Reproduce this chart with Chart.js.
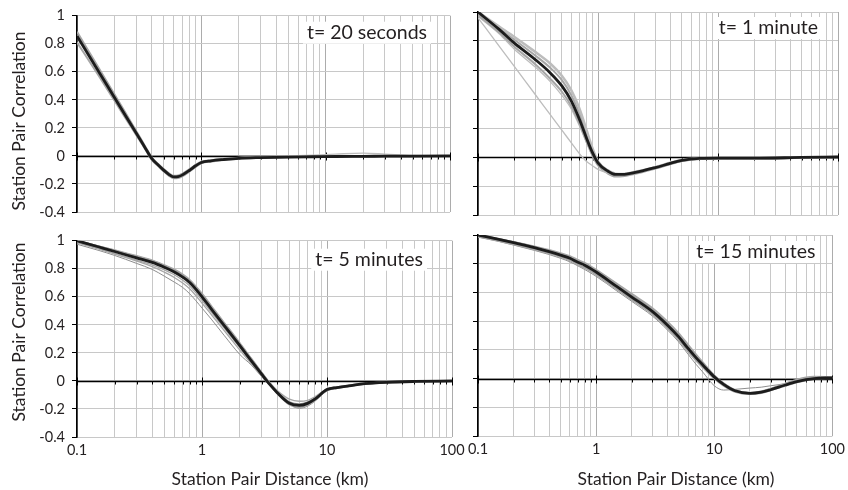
<!DOCTYPE html>
<html><head><meta charset="utf-8">
<script src="https://cdn.jsdelivr.net/npm/chart.js@4.4.1/dist/chart.umd.min.js"></script>
<style>
html,body{margin:0;padding:0;background:#fff;width:848px;height:490px;overflow:hidden;position:relative}
canvas{position:absolute}
</style></head><body>
<canvas id="cTL" width="470" height="228" style="left:0;top:0"></canvas>
<canvas id="cTR" width="390" height="228" style="left:460px;top:0"></canvas>
<canvas id="cBL" width="470" height="265" style="left:0;top:225px"></canvas>
<canvas id="cBR" width="390" height="265" style="left:460px;top:225px"></canvas>
<script>
// ---------- tick labels ----------
const xTickValues = [0.1,0.2,0.3,0.4,0.5,0.6,0.7,0.8,0.9,1,2,3,4,5,6,7,8,9,10,20,30,40,50,60,70,80,90,100];
const xMajorValues = [0.1,1,10,100];
const xTickLabels = ['0.1','1','10','100'];
const yTickLabels = ['-0.4','-0.2','0','0.2','0.4','0.6','0.8','1'];
const panelTitles = ['t= 20 seconds','t= 1 minute','t= 5 minutes','t= 15 minutes'];
const yAxisTitle = 'Station Pair Correlation';
const xAxisTitle = 'Station Pair Distance (km)';

// ---------- t = 20 seconds ----------
const distTL = [0.1,0.15,0.2,0.25,0.3,0.35,0.4,0.45,0.5,0.55,0.6,0.65,0.7,0.8,0.9,1,1.2,1.5,2,3,5,8,12,20,30,50,100];
const meanTL = [0.855,0.599,0.417,0.276,0.161,0.064,-0.02,-0.065,-0.103,-0.133,-0.150,-0.148,-0.137,-0.104,-0.07,-0.047,-0.035,-0.026,-0.017,-0.012,-0.008,-0.006,-0.004,-0.003,-0.002,-0.001,0];
const upperTL = [0.885,0.625,0.44,0.295,0.176,0.075,-0.012,-0.058,-0.095,-0.125,-0.142,-0.14,-0.128,-0.096,-0.063,-0.042,-0.031,-0.023,-0.015,-0.010,-0.007,-0.005,-0.003,-0.002,-0.001,0,0];
const lowerTL = [0.81,0.57,0.395,0.258,0.148,0.055,-0.028,-0.073,-0.112,-0.142,-0.16,-0.158,-0.146,-0.112,-0.078,-0.053,-0.04,-0.03,-0.02,-0.014,-0.01,-0.008,-0.006,-0.004,-0.003,-0.002,-0.001];
const bumpTL = [0.86,0.605,0.42,0.28,0.163,0.066,-0.018,-0.063,-0.1,-0.13,-0.147,-0.145,-0.134,-0.1,-0.066,-0.044,-0.03,-0.02,-0.01,-0.005,0,0.006,0.013,0.02,0.013,0.003,0];

// ---------- t = 1 minute ----------
const distTR = [0.1,0.15,0.2,0.3,0.4,0.5,0.6,0.7,0.8,0.9,1,1.2,1.4,1.6,2,3,4,5,7,10,20,50,100];
const meanTR = [1.0,0.88,0.787,0.672,0.58,0.49,0.385,0.26,0.133,0.03,-0.04,-0.096,-0.12,-0.12,-0.108,-0.073,-0.044,-0.023,-0.01,-0.008,-0.008,-0.003,0];
const straightTR = [0.96,0.765,0.626,0.431,0.292,0.185,0.097,0.023,-0.03,-0.06,-0.085,-0.11,-0.125,-0.125,-0.11,-0.075,-0.045,-0.025,-0.012,-0.01,-0.012,-0.005,0];
const upperTR = [1.0,0.9,0.83,0.725,0.645,0.56,0.46,0.335,0.19,0.06,-0.03,-0.09,-0.115,-0.117,-0.104,-0.07,-0.04,-0.02,-0.009,-0.007,-0.007,-0.002,0.001];
const upper2TR = [0.99,0.89,0.81,0.70,0.615,0.53,0.425,0.30,0.165,0.05,-0.035,-0.093,-0.118,-0.118,-0.106,-0.071,-0.042,-0.022,-0.01,-0.008,-0.009,-0.003,0];
const lowerTR = [0.98,0.86,0.762,0.64,0.54,0.45,0.35,0.23,0.11,0.01,-0.058,-0.112,-0.135,-0.133,-0.118,-0.08,-0.05,-0.028,-0.014,-0.01,-0.012,-0.006,0];
const lower2TR = [0.97,0.85,0.745,0.62,0.52,0.425,0.33,0.215,0.1,0.005,-0.055,-0.106,-0.128,-0.127,-0.113,-0.077,-0.048,-0.03,-0.017,-0.014,-0.016,-0.008,-0.002];

// ---------- t = 5 minutes ----------
const distBL = [0.1,0.15,0.2,0.3,0.4,0.5,0.6,0.7,0.8,1,1.2,1.5,2,2.5,3,3.5,4,5,6,7,8,10,12,15,20,30,50,100];
const meanBL = [1.0,0.955,0.923,0.877,0.845,0.81,0.777,0.74,0.70,0.60,0.507,0.396,0.253,0.139,0.048,-0.027,-0.084,-0.16,-0.175,-0.16,-0.13,-0.062,-0.047,-0.035,-0.02,-0.01,-0.004,0];
const upperBL = [1.0,0.962,0.935,0.893,0.862,0.828,0.797,0.762,0.722,0.625,0.532,0.42,0.275,0.158,0.063,-0.015,-0.068,-0.13,-0.145,-0.138,-0.113,-0.057,-0.043,-0.032,-0.018,-0.009,-0.003,0];
const upper2BL = [1.0,0.958,0.929,0.885,0.855,0.82,0.788,0.752,0.712,0.613,0.52,0.41,0.265,0.15,0.056,-0.02,-0.078,-0.152,-0.167,-0.154,-0.125,-0.06,-0.045,-0.033,-0.019,-0.009,-0.003,0];
const lowerBL = [0.99,0.945,0.91,0.862,0.828,0.792,0.757,0.718,0.676,0.575,0.485,0.378,0.24,0.13,0.042,-0.033,-0.092,-0.172,-0.19,-0.175,-0.14,-0.068,-0.05,-0.038,-0.023,-0.012,-0.005,-0.001];
const midBL = [0.985,0.94,0.905,0.855,0.815,0.775,0.738,0.698,0.655,0.555,0.468,0.36,0.222,0.118,0.035,-0.03,-0.085,-0.16,-0.18,-0.168,-0.136,-0.066,-0.049,-0.036,-0.022,-0.011,-0.004,0];
const lowestBL = [0.975,0.93,0.895,0.838,0.795,0.747,0.705,0.667,0.62,0.52,0.435,0.326,0.19,0.11,0.03,-0.035,-0.09,-0.165,-0.195,-0.18,-0.145,-0.072,-0.055,-0.04,-0.025,-0.013,-0.005,-0.001];

// ---------- t = 15 minutes ----------
const distBR = [0.1,0.15,0.2,0.3,0.4,0.5,0.6,0.7,0.8,1,1.5,2,3,4,5,6,7,8,10,12,15,20,25,30,40,50,60,70,100];
const meanBR = [1.0,0.97,0.947,0.912,0.884,0.86,0.838,0.81,0.79,0.742,0.64,0.568,0.466,0.373,0.29,0.21,0.146,0.095,0.012,-0.04,-0.085,-0.103,-0.095,-0.078,-0.045,-0.022,-0.008,0.0,0.005];
const upperBR = [1.0,0.972,0.952,0.92,0.895,0.873,0.852,0.826,0.805,0.757,0.66,0.59,0.49,0.398,0.315,0.235,0.168,0.112,0.022,-0.033,-0.08,-0.1,-0.09,-0.07,-0.035,-0.008,0.008,0.012,0.01];
const upper2BR = [1.0,0.97,0.95,0.916,0.89,0.866,0.845,0.818,0.797,0.75,0.65,0.58,0.478,0.386,0.302,0.222,0.157,0.104,0.017,-0.036,-0.083,-0.102,-0.093,-0.074,-0.04,-0.015,0.0,0.006,0.006];
const lowerBR = [0.99,0.96,0.936,0.9,0.872,0.847,0.823,0.796,0.772,0.724,0.622,0.55,0.448,0.354,0.27,0.19,0.127,0.078,0.0,-0.05,-0.092,-0.108,-0.1,-0.082,-0.05,-0.026,-0.011,-0.003,0.003];
const lowestBR = [0.985,0.955,0.93,0.893,0.864,0.838,0.813,0.785,0.76,0.712,0.61,0.538,0.435,0.34,0.255,0.17,0.1,0.045,-0.05,-0.08,-0.075,-0.066,-0.06,-0.05,-0.035,-0.015,-0.004,0.002,0.004];

// ---------- drawing ----------
const FONT = 'Lato, "Open Sans", sans-serif';
const TEXT = '#231f20';
const isPow10 = v => { const l = Math.log10(v); return Math.abs(l - Math.round(l)) < 1e-6; };

const zeroLinePlugin = {
  id: 'zeroLine',
  beforeDatasetsDraw(chart) {
    const {ctx, scales: {x, y}} = chart;
    const y0 = Math.round(y.getPixelForValue(0)) + 0.5;
    ctx.save();
    ctx.strokeStyle = '#000';
    ctx.lineWidth = 1;
    x.ticks.forEach(t => {
      const px = Math.round(x.getPixelForValue(t.value)) + 0.5;
      const major = isPow10(t.value);
      ctx.beginPath();
      ctx.moveTo(px, y0 - (major ? 4 : 0));
      ctx.lineTo(px, y0 + (major ? 4 : 3));
      ctx.stroke();
    });
    ctx.lineWidth = 1.6;
    ctx.beginPath();
    ctx.moveTo(x.left, y0);
    ctx.lineTo(x.right, y0);
    ctx.stroke();
    ctx.restore();
  }
};

const panelTextPlugin = {
  id: 'panelText',
  beforeDatasetsDraw(chart, args, opts) {
    if (!opts || !opts.text) return;
    const {ctx, chartArea} = chart;
    ctx.save();
    ctx.font = '19.5px ' + FONT;
    const w = ctx.measureText(opts.text).width;
    const xr = chartArea.right - opts.dx;
    const yc = chartArea.top + opts.dy;
    ctx.fillStyle = '#fff';
    ctx.fillRect(xr - w - 4, yc - 11, w + 8, 22);
    ctx.fillStyle = TEXT;
    ctx.textAlign = 'right';
    ctx.textBaseline = 'middle';
    ctx.fillText(opts.text, xr, yc);
    ctx.restore();
  },
  afterDraw(chart, args, opts) {
    const {ctx} = chart;
    ctx.save();
    ctx.fillStyle = TEXT;
    ctx.font = '17.5px ' + FONT;
    ctx.textAlign = 'center';
    ctx.textBaseline = 'middle';
    if (opts.yTitle) {
      ctx.save();
      ctx.translate(opts.yTitle.x, opts.yTitle.y);
      ctx.rotate(-Math.PI / 2);
      ctx.fillText(yAxisTitle, 0, 0);
      ctx.restore();
    }
    if (opts.xTitle) {
      ctx.fillText(xAxisTitle, opts.xTitle.x, opts.xTitle.y);
    }
    ctx.restore();
  }
};

function toPoints(dist, vals) { return dist.map((d, i) => ({x: d, y: vals[i]})); }

function makeChart(p) {
  const datasets = [{
    data: toPoints(p.dist, p.mean), borderColor: '#1c1c1c', borderWidth: 2.8
  }];
  p.members.forEach(m => datasets.push({
    data: toPoints(p.dist, m.v), borderColor: m.c, borderWidth: m.w || 1.3
  }));
  datasets.forEach(d => { d.pointRadius = 0; d.cubicInterpolationMode = 'monotone'; d.fill = false; });

  return new Chart(document.getElementById(p.id), {
    type: 'line',
    data: {datasets},
    plugins: [zeroLinePlugin, panelTextPlugin],
    options: {
      responsive: false, animation: false, devicePixelRatio: 1,
      layout: {padding: p.pad},
      plugins: {legend: {display: false}, tooltip: {enabled: false},
        panelText: {text: p.label, dx: p.dx, dy: p.dy, yTitle: p.yTitle, xTitle: p.xTitle}},
      scales: {
        x: {
          type: 'logarithmic', min: 0.1, max: 100,
          afterBuildTicks: s => { s.ticks = xTickValues.map(v => ({value: v})); },
          afterFit: s => { s.height = p.xH; },
          ticks: {display: p.xLabels, autoSkip: false, maxRotation: 0, minRotation: 0,
            color: TEXT, font: {family: FONT, size: 14.5}, padding: 5,
            callback: v => { const i = xMajorValues.findIndex(m => Math.abs(m - v) < 1e-6 * m); return i >= 0 ? xTickLabels[i] : ''; }},
          grid: {color: c => (c.tick && isPow10(c.tick.value)) ? '#acacac' : '#c8c8c8', lineWidth: 1, drawTicks: false},
          border: {display: false}
        },
        y: {
          type: 'linear', min: -0.4, max: 1,
          afterFit: s => { s.width = p.yW; },
          ticks: {display: p.yLabels, stepSize: 0.2, color: TEXT, font: {family: FONT, size: 14.5}, padding: 7,
            callback: v => { const i = Math.round((v + 0.4) / 0.2); return yTickLabels[i]; }},
          grid: {color: '#c8c8c8', lineWidth: 1, tickLength: 5, tickColor: '#000', tickWidth: 1},
          border: {display: true, color: '#000', width: 1.6}
        }
      }
    }
  });
}

const G1 = '#8e8e8e', G2 = '#a6a6a6', G3 = '#bdbdbd';
makeChart({id: 'cTL', pad: {left: 0, top: 12, right: 20, bottom: 0}, yW: 77, xH: 16, yLabels: true, xLabels: false,
  yTitle: {x: 19, y: 121},
  label: panelTitles[0], dx: 23, dy: 17, dist: distTL, mean: meanTL,
  members: [{v: upperTL, c: G2, w: 2}, {v: lowerTL, c: G2, w: 2}, {v: bumpTL, c: G3}]});
makeChart({id: 'cTR', pad: {left: 0, top: 12, right: 12, bottom: 0}, yW: 18, xH: 13, yLabels: false, xLabels: false,
  label: panelTitles[1], dx: 20, dy: 16, dist: distTR, mean: meanTR,
  members: [{v: straightTR, c: G3}, {v: upperTR, c: G3, w: 2.5}, {v: upper2TR, c: G2, w: 2}, {v: lowerTR, c: G2, w: 2}, {v: lower2TR, c: G3}]});
makeChart({id: 'cBL', pad: {left: 0, top: 8, right: 18, bottom: 0}, yW: 77, xH: 53, yLabels: true, xLabels: true,
  yTitle: {x: 19, y: 107}, xTitle: {x: 270, y: 254},
  label: panelTitles[2], dx: 29, dy: 19, dist: distBL, mean: meanBL,
  members: [{v: upperBL, c: G2}, {v: upper2BL, c: G1, w: 2}, {v: lowerBL, c: G2}, {v: midBL, c: G2}, {v: lowestBL, c: G1, w: 1}]});
makeChart({id: 'cBR', pad: {left: 0, top: 10, right: 13, bottom: 0}, yW: 18, xH: 54, yLabels: false, xLabels: true,
  xTitle: {x: 216, y: 254},
  label: panelTitles[3], dx: 17, dy: 17, dist: distBR, mean: meanBR,
  members: [{v: upperBR, c: G2, w: 2}, {v: upper2BR, c: G1, w: 2}, {v: lowerBR, c: G2, w: 2}, {v: lowestBR, c: G1, w: 1}]});
</script>
</body></html>
